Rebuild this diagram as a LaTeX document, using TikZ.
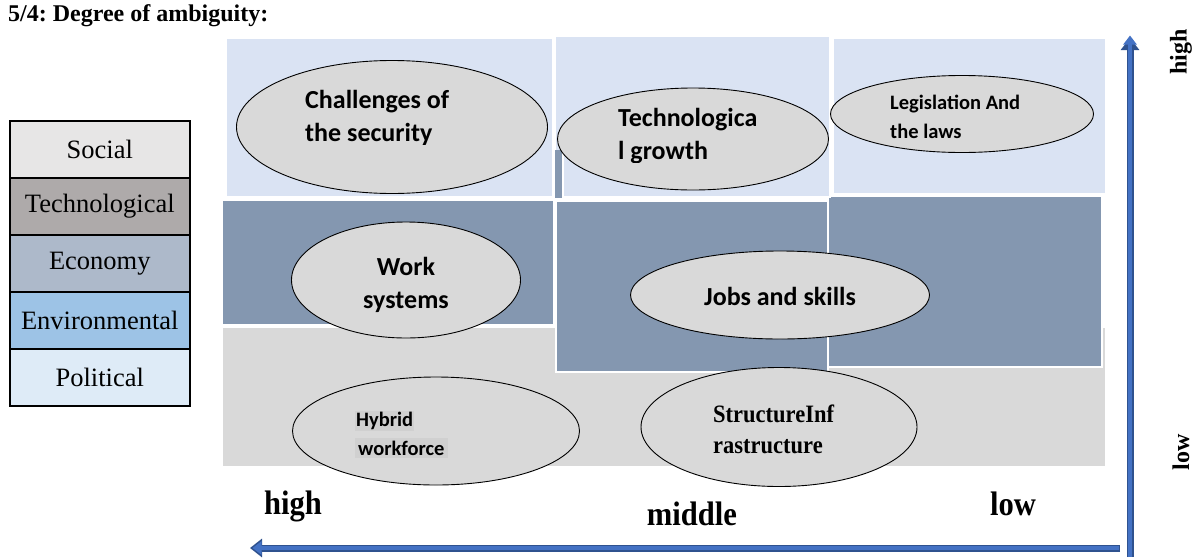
\documentclass[tikz,border=0pt]{standalone}
\usepackage{fontspec}
\setmainfont{Liberation Serif}
\newfontfamily\ellfont{Carlito}
\newfontfamily\condserif[FakeStretch=0.9]{Liberation Serif}
\usetikzlibrary{shapes.geometric,arrows.meta}
\frenchspacing

\definecolor{paleblue}{HTML}{DAE3F3}
\definecolor{slate}{HTML}{8497B0}
\definecolor{bggray}{HTML}{D9D9D9}
\definecolor{hlgray}{HTML}{D0D0D0}
\definecolor{axisblue}{HTML}{4472C4}
\definecolor{axisdark}{HTML}{2F528F}
\definecolor{socialc}{HTML}{E7E6E6}
\definecolor{techc}{HTML}{AEAAAA}
\definecolor{econc}{HTML}{ADB9CA}
\definecolor{envc}{HTML}{9DC3E6}
\definecolor{polc}{HTML}{DEEBF7}

\tikzset{
  panel/.style={fill=#1, draw=white, line width=2pt},
  bubble/.style={ellipse, draw=black, fill=bggray, line width=0.9pt, inner sep=0pt},
  legendrow/.style={rectangle, draw=black, line width=1.6pt, fill=#1,
    minimum width=180pt, minimum height=57pt, anchor=north west, inner sep=0pt,
    font=\fontsize{26.5}{30}\selectfont},
  bubbletext/.style={inner sep=0pt, align=left, font=\ellfont\bfseries\fontsize{26}{33}\selectfont},
  smalltext/.style={inner sep=0pt, align=left, font=\ellfont\bfseries\fontsize{20.5}{28.5}\selectfont},
  axislabel/.style={inner sep=0pt, font=\condserif\bfseries\fontsize{34}{40}\selectfont},
  sidelabel/.style={inner sep=0pt, rotate=90, font=\bfseries\fontsize{24}{28}\selectfont},
  axisouter/.style={draw=axisdark, line width=7pt, -{Triangle[length=12pt,width=18pt]}},
  axisinner/.style={draw=axisblue, line width=4pt, -{Triangle[length=9pt,width=13pt]}},
}

\begin{document}
\begin{tikzpicture}[x=1pt,y=-1pt]
\useasboundingbox (0,0) rectangle (1193,557);

% title
\node[anchor=west, inner sep=0pt, font=\bfseries\fontsize{24}{28}\selectfont] (title) at (8,16) {5/4: Degree of ambiguity:};

% legend of the five dimensions
\node[legendrow=socialc] (social) at (9,120) {Social};
\node[legendrow=techc] (tech) at (9,177) {Technological};
\node[legendrow=econc] (econ) at (9,234) {Economy};
\node[legendrow=envc] (env) at (9,291) {Environmental};
\node[legendrow=polc] (pol) at (9,348) {Political};

% background panels
\path[panel=slate] (222,200) rectangle (554,325);
\path[panel=bggray] (222,327) rectangle (1106,467);
\path[panel=slate] (828,196) rectangle (1102,367);
\path[panel=slate] (556,201) rectangle (828,372);
\path[panel=paleblue] (226,38) rectangle (553,197);
\path[panel=paleblue] (555,36) rectangle (830,197);
\path[panel=paleblue] (833,38) rectangle (1106,194);
\fill[slate] (555,150) rectangle (562,198);
\draw[white, line width=1.5pt] (563,150) -- (563,197);

% top row
\node[bubble, minimum width=311pt, minimum height=133pt] (security) at (392,127) {};
\begin{scope}
  \clip (300,80) rectangle (500,144.5);
  \node[bubbletext, anchor=north west] (securitytext) at (305,90) {Challenges of\\the security};
\end{scope}
\node[bubble, minimum width=271pt, minimum height=102pt] (growth) at (693,139) {};
\begin{scope}
  \clip (610,100) rectangle (800,162.5);
  \node[bubbletext, anchor=north west] (growthtext) at (618,108) {Technologica\\l growth};
\end{scope}
\node[bubble, minimum width=263pt, minimum height=77pt] (laws) at (962,114) {};
\node[smalltext, anchor=north west] (lawstext) at (890,95) {Legislation And\\the laws};

% middle row
\node[bubble, minimum width=229pt, minimum height=116pt] (work) at (406,280) {};
\node[bubbletext, align=center] (worktext) at (406,285) {Work\\systems};
\node[bubble, minimum width=299pt, minimum height=88pt] (jobs) at (780,295) {};
\node[bubbletext] (jobstext) at (780,296) {Jobs and skills};

% bottom row
\node[bubble, minimum width=287pt, minimum height=108pt] (hybrid) at (436,431) {};
\node[smalltext, anchor=north west] (hybridtext) at (355,411)
  {\setlength{\fboxsep}{1pt}\colorbox{hlgray}{Hybrid}\\\colorbox{hlgray}{workforce}};
\node[bubble, minimum width=276pt, minimum height=119pt] (infra) at (779,427) {};
\node[inner sep=0pt, align=left, anchor=north west,
  font=\condserif\bfseries\fontsize{25}{31}\selectfont] (infratext) at (713,405) {StructureInf\\rastructure};

% axis labels
\node[axislabel] (xhigh) at (293,506) {high};
\node[axislabel] (xmid) at (692,514) {middle};
\node[axislabel] (xlow) at (1013,504) {low};
\node[sidelabel] (yhigh) at (1181,52) {high};
\node[sidelabel] (ylow) at (1181,452) {low};

% axes
\coordinate (xstart) at (1120,548);
\coordinate (xend) at (250,548);
\coordinate (ystart) at (1130,557);
\coordinate (yend) at (1130,38);
\draw[axisouter] (xstart) -- (xend);
\draw[axisinner] ([xshift=-1.5pt]xstart) -- ([xshift=2.5pt]xend);
\draw[axisouter] (ystart) -- (yend);
\draw[axisinner] (ystart) -- ([yshift=2.5pt]yend);
\end{tikzpicture}
\end{document}
